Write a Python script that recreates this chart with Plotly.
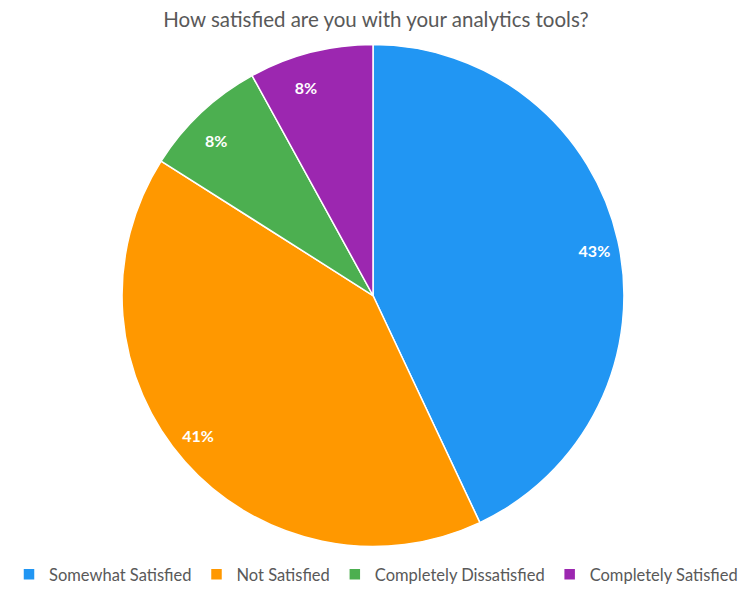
"""
Pie chart: satisfaction with analytics tools
"""
import plotly.graph_objects as go

labels = ['Somewhat Satisfied', 'Not Satisfied', 'Completely Dissatisfied', 'Completely Satisfied']
values = [43, 41, 8, 8]
colors = ['#2196F3', '#FF9800', '#4CAF50', '#9C27B0']

# the page body adds an 8px margin, so the figure is a bit smaller than the window
W, H = 736, 584
cx, cy, R = 365, 291, 254   # pie centre / radius in figure pixels
r_lab = 0.82 * R            # smaller invisible pie that carries the labels


def dom(r):
    return dict(x=[(cx - r) / W, (cx + r) / W], y=[1 - (cy + r) / H, 1 - (cy - r) / H])


fig = go.Figure()
fig.add_trace(go.Pie(
    labels=labels, values=values, sort=False, direction='clockwise', rotation=0,
    textinfo='none', domain=dom(R),
    marker=dict(colors=colors, line=dict(color='white', width=1.5)),
    hoverinfo='label+percent',
))
# labels sit near the outer edge like Excel's "best fit"
fig.add_trace(go.Pie(
    labels=labels, values=values, sort=False, direction='clockwise', rotation=0,
    textinfo='percent', texttemplate='<b>%{percent:.0%}</b>',
    textposition='outside', showlegend=False, hoverinfo='skip',
    textfont=dict(color='white', size=16, family='Lato'),
    marker=dict(colors=['rgba(0,0,0,0)'] * 4, line=dict(width=0)),
    domain=dom(r_lab),
))

fig.update_layout(
    width=W, height=H,
    margin=dict(l=0, r=0, t=0, b=0),
    paper_bgcolor='white',
    font=dict(family='Lato', color='#595959'),
    title=dict(text='How satisfied are you with your analytics tools?',
               x=0.5, xanchor='center', yref='container', y=0.980, yanchor='middle',
               font=dict(size=20.5, color='#595959', family='Lato')),
    showlegend=True,
    legend=dict(orientation='h', x=0.5, xanchor='center',
                yref='paper', y=0.018, yanchor='middle',
                font=dict(size=16.5, color='#595959', family='Lato'),
                itemclick=False),
)

fig.write_html('out.html')
